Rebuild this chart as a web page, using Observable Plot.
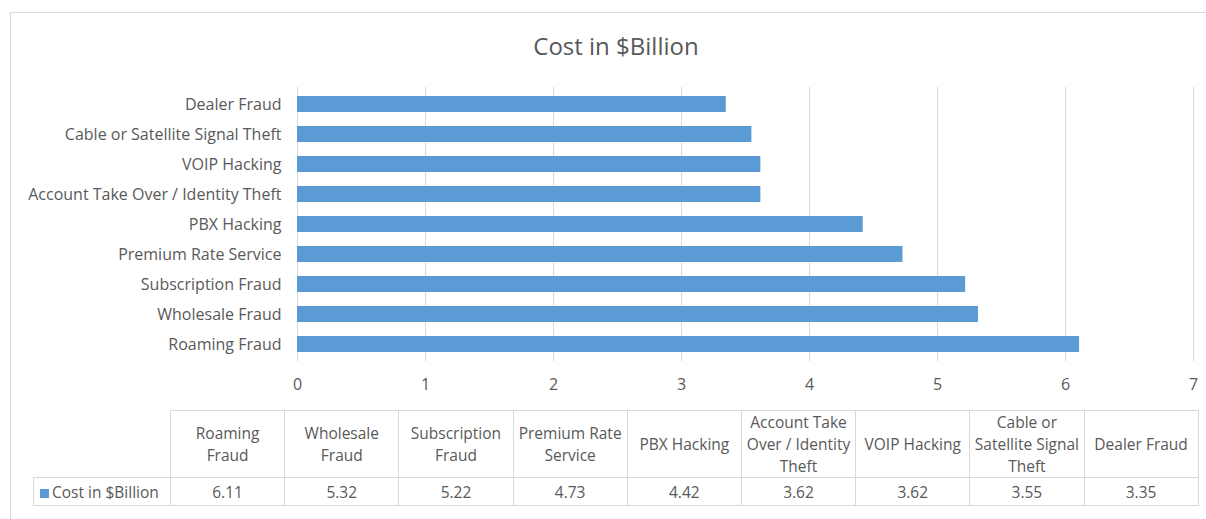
<!DOCTYPE html>
<html><head><meta charset="utf-8">
<script src="https://cdn.jsdelivr.net/npm/d3@7"></script>
<script src="https://cdn.jsdelivr.net/npm/@observablehq/plot@0.6"></script>
<style>
body{margin:0;background:#fff;font-family:"Open Sans",sans-serif;}
#wrap{position:relative;width:1206px;height:519px;overflow:hidden;background:#fff;}
#frame{position:absolute;left:10px;top:12px;width:1300px;height:600px;border:1px solid #d9d9d9;box-sizing:border-box;}
#title{position:absolute;left:0;width:1232px;top:32px;text-align:center;font-size:24px;line-height:28px;color:#595959;}
#chart{position:absolute;left:0;top:0;}
#tbl{position:absolute;left:33px;top:410px;border-collapse:collapse;color:#595959;font-size:15.5px;table-layout:fixed;width:1165px;}
#tbl td{border:1px solid #d9d9d9;text-align:center;padding:0;white-space:pre;line-height:22px;overflow:visible;}
#tbl tr.h td{height:66px;}
#tbl tr.v td{height:27px;}
#tbl td.blank{border-top:none;border-left:none;}
#tbl td.leg{text-align:left;padding-left:6px;white-space:nowrap;}
.sw{display:inline-block;width:9px;height:9px;background:#5B9BD5;margin-right:3px;}
</style>
</head><body>
<div id="wrap">
  <div id="frame"></div>
  <div id="chart"></div>
  <div id="title"></div>
  <table id="tbl"></table>
</div>
<script>
const titleText = "Cost in $Billion";
const seriesName = "Cost in $Billion";
const categories = ["Roaming Fraud","Wholesale Fraud","Subscription Fraud","Premium Rate Service","PBX Hacking","Account Take Over / Identity Theft","VOIP Hacking","Cable or Satellite Signal Theft","Dealer Fraud"];
const values = [6.11,5.32,5.22,4.73,4.42,3.62,3.62,3.55,3.35];
const tableHeaders = ["Roaming\nFraud","Wholesale\nFraud","Subscription\nFraud","Premium Rate\nService","PBX Hacking","Account Take\nOver / Identity\nTheft","VOIP Hacking","Cable or\nSatellite Signal\nTheft","Dealer Fraud"];
const xTicks = [0,1,2,3,4,5,6,7];

const data = categories.map((c,i)=>({category:c, value:values[i]}));

const plot = Plot.plot({
  width:1206, height:395,
  marginLeft:297, marginRight:13, marginTop:87, marginBottom:34,
  style:{fontFamily:'"Open Sans", sans-serif', fontSize:'16px', color:'#595959', background:'transparent', overflow:'visible'},
  x:{domain:[0,7]},
  y:{domain:categories.slice().reverse(), paddingInner:0.475, paddingOuter:0.2375},
  marks:[
    Plot.gridX(xTicks,{stroke:'#d9d9d9', strokeOpacity:1}),
    Plot.barX(data,{x:'value', y:'category', fill:'#5B9BD5'}),
    Plot.axisX({ticks:xTicks, tickFormat:d=>String(d), tickSize:0, tickPadding:17, label:null}),
    Plot.axisY({tickSize:0, tickPadding:16, label:null})
  ]
});
document.getElementById('chart').appendChild(plot);
document.getElementById('title').textContent = titleText;

const tbl = d3.select('#tbl');
const cg = tbl.append('colgroup');
cg.append('col').style('width','137px');
tableHeaders.forEach(()=>cg.append('col').style('width','114.2px'));
const hr = tbl.append('tr').attr('class','h');
hr.append('td').attr('class','blank');
hr.selectAll('td.hd').data(tableHeaders).join('td').attr('class','hd').text(d=>d);
const vr = tbl.append('tr').attr('class','v');
const leg = vr.append('td').attr('class','leg');
leg.append('span').attr('class','sw');
leg.append('span').text(seriesName);
vr.selectAll('td.val').data(values).join('td').attr('class','val').text(d=>d.toFixed(2));
</script>
</body></html>
